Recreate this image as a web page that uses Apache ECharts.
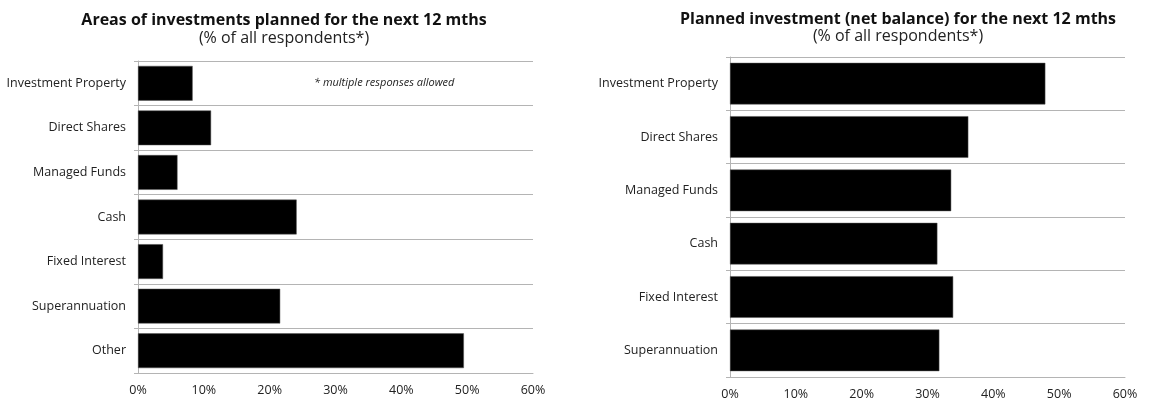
<!DOCTYPE html>
<html><head><meta charset="utf-8">
<script src="https://cdn.jsdelivr.net/npm/echarts@6/dist/echarts.min.js"></script>
<style>html,body{margin:0;padding:0;background:#fff}#c{width:1149px;height:418px}</style>
</head><body><div id="c"></div>
<script>
const leftCategories = ['Investment Property','Direct Shares','Managed Funds','Cash','Fixed Interest','Superannuation','Other'];
const leftValues = [8.3, 11.1, 6.0, 24.1, 3.8, 21.6, 49.5];
const rightCategories = ['Investment Property','Direct Shares','Managed Funds','Cash','Fixed Interest','Superannuation'];
const rightValues = [47.9, 36.2, 33.6, 31.5, 33.9, 31.8];
const xTicks = [0, 10, 20, 30, 40, 50, 60];

const FONT = 'Open Sans';
const chart = echarts.init(document.getElementById('c'));
function xAxis(gi){
  return {gridIndex: gi, type:'value', min: xTicks[0], max: xTicks[xTicks.length-1], interval: 10,
    axisLine:{show:true, lineStyle:{color:'#b4b4b4', width:1}}, axisTick:{show:false},
    splitLine:{show:false},
    axisLabel:{formatter:'{value}%', color:'#222', fontFamily:FONT, fontSize:12.5, margin:11}};
}
function yAxis(gi, cats){
  return {gridIndex: gi, type:'category', data: cats, inverse:true,
    axisLine:{show:true, lineStyle:{color:'#b4b4b4', width:1}},
    axisTick:{show:true, length:4, lineStyle:{color:'#b4b4b4'}},
    splitLine:{show:true, lineStyle:{color:'#b4b4b4', width:1}},
    axisLabel:{color:'#222', fontFamily:FONT, fontSize:12.5, margin:12}};
}
chart.setOption({
  animation:false,
  title:[
    {text:'Areas of investments planned for the next 12 mths', subtext:'(% of all respondents*)',
     left:279, textAlign:'center', top:7, itemGap:2,
     textStyle:{fontFamily:FONT, fontSize:16, fontWeight:'bold', color:'#111'},
     subtextStyle:{fontFamily:FONT, fontSize:16, color:'#222'}},
    {text:'Planned investment (net balance) for the next 12 mths', subtext:'(% of all respondents*)',
     left:893, textAlign:'center', top:6, itemGap:1,
     textStyle:{fontFamily:FONT, fontSize:16, fontWeight:'bold', color:'#111'},
     subtextStyle:{fontFamily:FONT, fontSize:16, color:'#222'}}
  ],
  graphic:[{type:'text', left:314, top:77, style:{text:'* multiple responses allowed', font:'italic 11px "Open Sans"', fill:'#222'}}],
  grid:[
    {left:138, right:616, top:61, bottom:45},
    {left:730, right:24, top:57, bottom:41}
  ],
  xAxis:[xAxis(0), xAxis(1)],
  yAxis:[yAxis(0, leftCategories), yAxis(1, rightCategories)],
  series:[
    {type:'bar', xAxisIndex:0, yAxisIndex:0, data:leftValues, barCategoryGap:'22%',
     itemStyle:{color:'#000', borderColor:'#555', borderWidth:0.5}},
    {type:'bar', xAxisIndex:1, yAxisIndex:1, data:rightValues, barCategoryGap:'22%',
     itemStyle:{color:'#000', borderColor:'#555', borderWidth:0.5}}
  ]
});
</script></body></html>
